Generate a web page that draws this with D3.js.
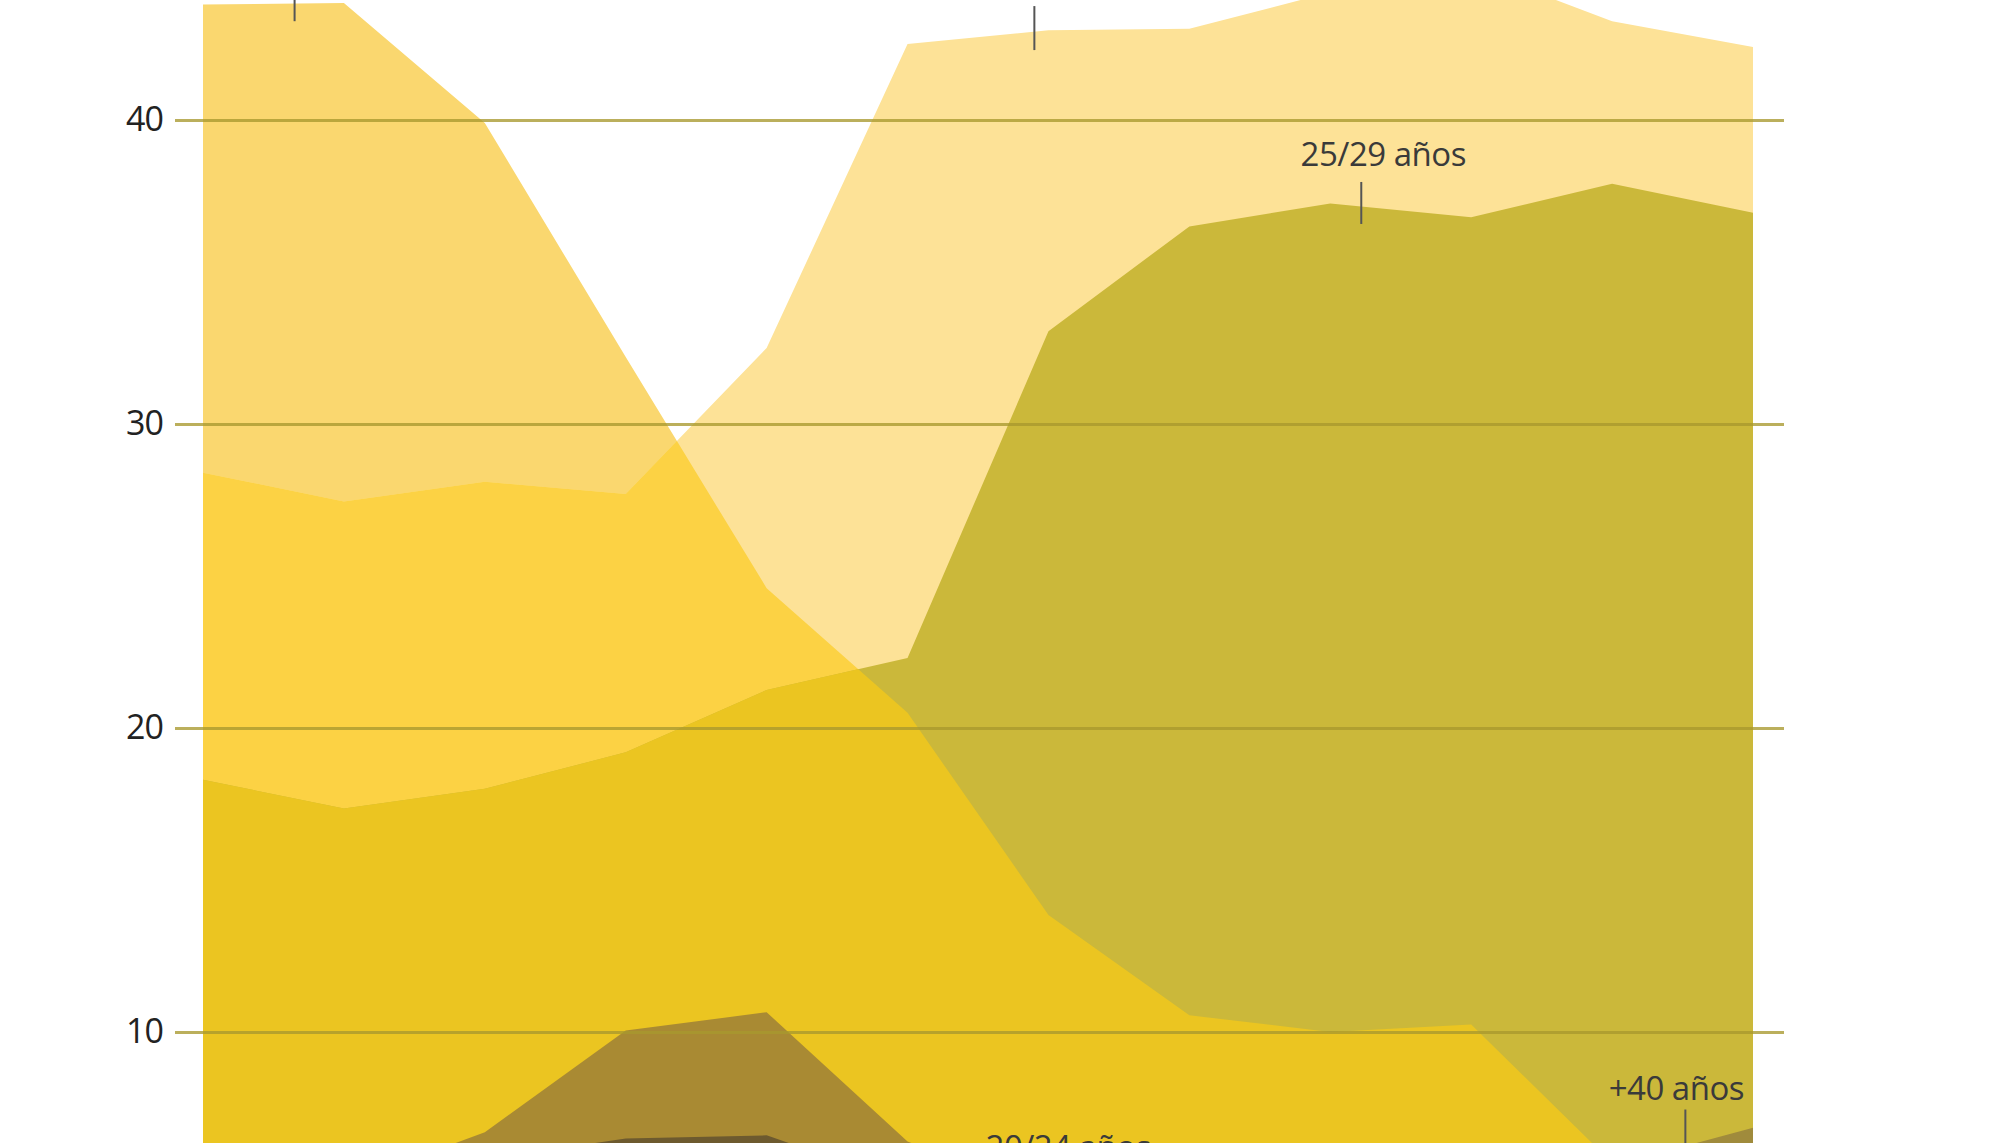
<!DOCTYPE html>
<html>
<head>
<meta charset="utf-8">
<script src="https://cdn.jsdelivr.net/npm/d3@7/dist/d3.min.js"></script>
<style>
html,body{margin:0;padding:0;background:#fff;overflow:hidden}
text{font-family:"Open Sans","DejaVu Sans",sans-serif}
</style>
</head>
<body>
<svg id="chart" width="2000" height="1143"></svg>
<script>
// ---- data (x-axis labels are outside the visible crop) ----
const periods = ["1","2","3","4","5","6","7","8","9","10","11","12"];
const serieA  = [43.8, 43.85, 39.9, 32.2, 24.6, 20.5, 13.85, 10.55, 10.0, 10.25, 5.7, 5.0];
const serieB  = [28.4, 27.45, 28.1, 27.7, 32.5, 42.5, 42.95, 43.0, 44.2, 45.0, 43.25, 42.4];
const serie2529 = [18.3, 17.35, 18.0, 19.2, 21.25, 22.3, 33.05, 36.5, 37.25, 36.8, 37.9, 36.95];
const serie2024 = [4.8, 5.0, 6.7, 10.05, 10.65, 6.4, 4.5, 3.8, 3.2, 2.9, 2.6, 2.4];
const serieE  = [3.0, 3.5, 5.8, 6.5, 6.6, 5.0, 3.5, 3.0, 2.8, 2.6, 2.5, 2.5];
const serie40 = [2.0, 2.0, 1.9, 1.8, 1.8, 1.9, 2.2, 2.6, 3.2, 4.2, 5.6, 6.85];
const yTicks = [10, 20, 30, 40];
const labels = [
  {text: "25/29 años", at: 8.22, value: 36.58, len: 42, above: 58, dx: 22},
  {text: "+40 años",   at: 10.52, value: 6.2, len: 38, above: 48, dx: -9},
  {text: "20/24 años", at: 6.14, value: 4.5, len: 40, above: 40, dx: 0}
];
const bareTicks = [{at: 0.65, value: 43.25, len: 44}, {at: 5.9, value: 42.3, len: 44}];

// ---- scales ----
const svg = d3.select("#chart");
const x = d3.scalePoint().domain(periods).range([203, 1753]);
const y = d3.scaleLinear().domain([10, 40]).range([1032, 120]);
const xi = d3.scaleLinear().domain([0, periods.length - 1]).range(x.range());

const areaGen = d3.area()
  .x((d, i) => x(periods[i]))
  .y0(y(0))
  .y1(d => y(d));

const defs = svg.append("defs");
defs.append("clipPath").attr("id", "clipA")
  .append("path").attr("d", areaGen(serieA));

const g = svg.append("g");
function layer(vals, fill, clip) {
  const p = g.append("path").attr("d", areaGen(vals)).attr("fill", fill);
  if (clip) p.attr("clip-path", "url(#" + clip + ")");
}
layer(serieA, "#fad76f");
layer(serieB, "#fde297");
layer(serieB, "#fcd244", "clipA");
layer(serie2529, "#cbb83a");
layer(serie2529, "#ebc521", "clipA");
layer(serie2024, "#a98a33");
layer(serieE, "#6d5a2f");
layer(serie40, "#a08b3c");

// ---- axis / gridlines ----
const axis = d3.axisLeft(y).tickValues(yTicks).tickSize(-(1784 - 175)).tickPadding(12);
const ax = svg.append("g").attr("transform", "translate(175,0)").call(axis);
ax.select(".domain").remove();
ax.selectAll(".tick line").attr("stroke", "#a8982e").attr("stroke-opacity", 0.78).attr("stroke-width", 3);
ax.selectAll(".tick text").attr("fill", "#222").attr("font-size", 34)
  .attr("font-family", "'Open Sans', sans-serif").attr("letter-spacing", "-1");

// ---- annotations ----
const ann = svg.append("g");
bareTicks.forEach(t => {
  const px = xi(t.at);
  ann.append("line").attr("x1", px).attr("x2", px)
    .attr("y1", y(t.value) - t.len).attr("y2", y(t.value))
    .attr("stroke", "#555").attr("stroke-width", 2);
});
labels.forEach(l => {
  const px = xi(l.at);
  const ty = y(l.value);
  ann.append("line").attr("x1", px).attr("x2", px)
    .attr("y1", ty - l.len).attr("y2", ty)
    .attr("stroke", "#555").attr("stroke-width", 2);
  ann.append("text").attr("x", px + l.dx)
    .attr("y", ty - l.above)
    .attr("text-anchor", "middle").attr("font-size", 33).attr("fill", "#3a3a3a")
    .attr("letter-spacing", "-0.5")
    .text(l.text);
});
</script>
</body>
</html>
